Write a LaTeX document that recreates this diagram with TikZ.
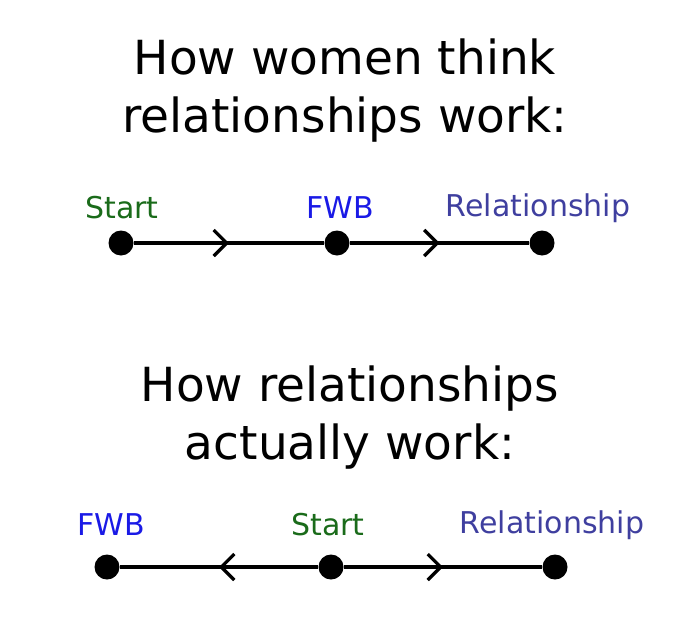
\documentclass[tikz,border=0pt]{standalone}
\usepackage{fontspec}
\setmainfont{DejaVu Sans}
\usetikzlibrary{arrows.meta,decorations.markings}
\definecolor{cgreen}{HTML}{1A6B1A}
\definecolor{cblue}{HTML}{1A1AE6}
\definecolor{cslate}{HTML}{3F3F9F}
\begin{document}
\begin{tikzpicture}[x=1pt,y=-1pt,
  dot/.style={circle,fill=black,inner sep=0pt,minimum size=25pt},
  ttl/.style={font=\fontsize{47}{58}\selectfont,align=center},
  lbl/.style={font=\fontsize{30}{33}\selectfont},
  conn/.style={line width=3.2pt},
  fwd/.style={conn,decoration={markings,mark=at position #1 with {\arrow{Straight Barb[length=13pt,width=26pt,line width=3.2pt]}}},postaction={decorate}}]
\useasboundingbox (0,0) rectangle (690,621);
\node[ttl] (t1) at (345,91) {How women think\\relationships work:};
\node[dot] (a1) at (121,243) {};
\node[dot] (a2) at (337,243) {};
\node[dot] (a3) at (542,243) {};
\node[lbl,text=cgreen] (l1) at (122,208) {Start};
\node[lbl,text=cblue] (l2) at (340,208) {FWB};
\node[lbl,text=cslate] (l3) at (538,208) {Relationship};
\draw[fwd=0.5] (a1) -- (a2);
\draw[fwd=0.5] (a2) -- (a3);
\node[ttl] (t2) at (350,418) {How relationships\\actually work:};
\node[dot] (b1) at (107,567) {};
\node[dot] (b2) at (331,567) {};
\node[dot] (b3) at (555,567) {};
\node[lbl,text=cblue] (m1) at (111,525) {FWB};
\node[lbl,text=cgreen] (m2) at (328,525) {Start};
\node[lbl,text=cslate] (m3) at (552,525) {Relationship};
\draw[fwd=0.5] (b2) -- (b1);
\draw[fwd=0.5] (b2) -- (b3);
\end{tikzpicture}
\end{document}
